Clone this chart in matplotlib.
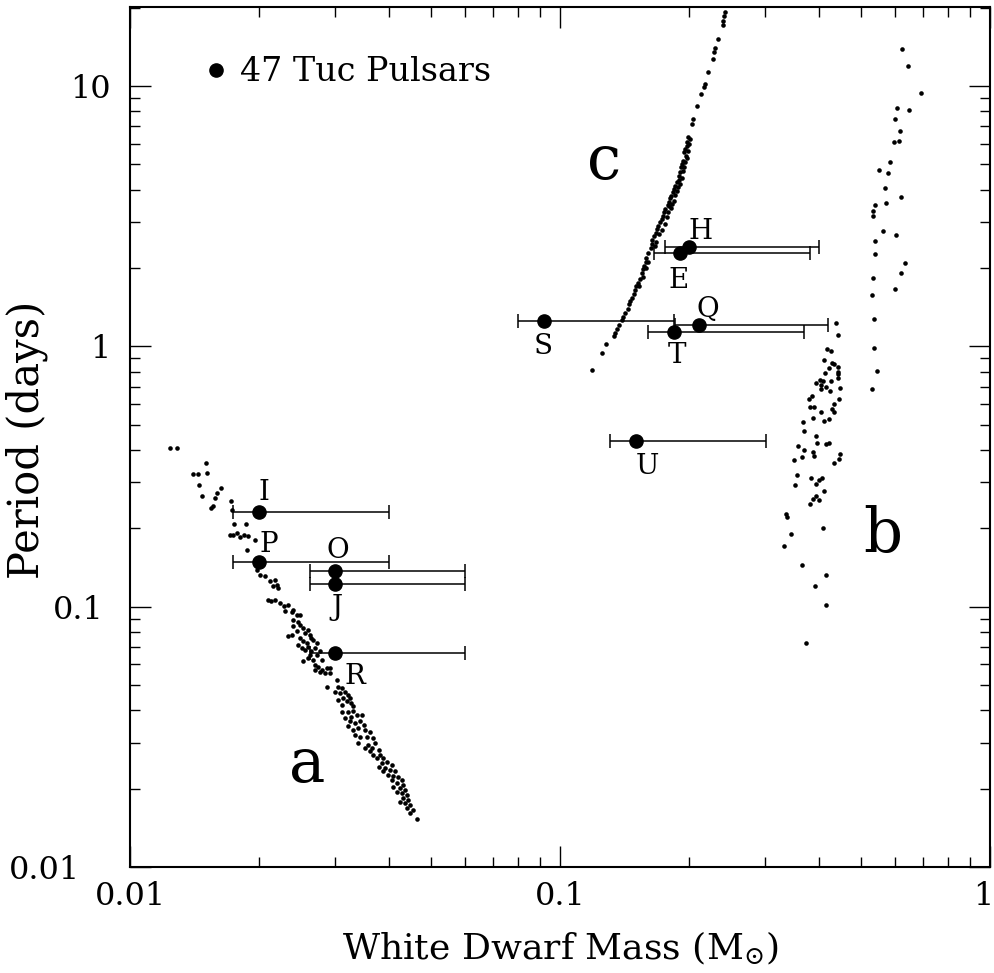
import numpy as np
import matplotlib
matplotlib.use("Agg")
import matplotlib.pyplot as plt
from matplotlib.lines import Line2D
from matplotlib.transforms import ScaledTranslation

plt.rcParams["font.family"] = ["DejaVu Serif"]
plt.rcParams["mathtext.fontset"] = "dejavuserif"

# 47 Tuc pulsars: mass (Msun), period (days), mass range of the error bar
psr_names = ["I", "P", "O", "J", "R", "S", "T", "Q", "E", "H", "U"]
psr_mass = [0.020, 0.020, 0.030, 0.030, 0.030, 0.092, 0.184, 0.210, 0.190, 0.200, 0.150]
psr_period = [0.232, 0.149, 0.137, 0.1225, 0.0665, 1.248, 1.132, 1.205, 2.28, 2.40, 0.431]
psr_mass_lo = [0.0174, 0.0174, 0.0262, 0.0262, 0.0262, 0.0798, 0.160, 0.185, 0.165, 0.175, 0.1307]
psr_mass_hi = [0.040, 0.040, 0.060, 0.060, 0.060, 0.184, 0.369, 0.420, 0.381, 0.400, 0.301]

# simulated binaries, group a  (log10 mass, log10 period)
a_logm = [-1.907, -1.890, -1.824, -1.853, -1.841, -1.822, -1.839, -1.833, -1.798, -1.788,
          -1.802, -1.806, -1.812, -1.766, -1.762, -1.758, -1.730, -1.767, -1.761, -1.752,
          -1.744, -1.736, -1.725, -1.709, -1.727, -1.704, -1.698, -1.686, -1.674, -1.663,
          -1.659, -1.668, -1.655, -1.678, -1.663, -1.671, -1.651, -1.643, -1.632, -1.640,
          -1.624, -1.612, -1.620, -1.605,
          -1.622, -1.609, -1.620, -1.605, -1.597, -1.585, -1.612, -1.593, -1.624, -1.632,
          -1.581, -1.578, -1.605, -1.574, -1.597, -1.589, -1.566, -1.609, -1.585, -1.570,
          -1.601, -1.593, -1.578, -1.558, -1.581, -1.566, -1.585, -1.574, -1.554, -1.597,
          -1.570, -1.562, -1.543, -1.554, -1.535, -1.546, -1.558, -1.535, -1.570, -1.519,
          -1.543, -1.516, -1.508, -1.523, -1.512, -1.500, -1.492, -1.504, -1.488, -1.516,
          -1.496, -1.485, -1.508, -1.481,
          -1.508, -1.492, -1.481, -1.473, -1.461, -1.500, -1.485, -1.488, -1.477, -1.465,
          -1.457, -1.492, -1.481, -1.469, -1.453, -1.442, -1.477, -1.465, -1.450, -1.434,
          -1.469, -1.446, -1.430, -1.453, -1.438, -1.422, -1.442, -1.434, -1.419, -1.411,
          -1.426, -1.403, -1.415, -1.391, -1.422, -1.407, -1.395, -1.384, -1.411, -1.399,
          -1.388, -1.376, -1.368, -1.391, -1.380, -1.364, -1.388, -1.372, -1.360, -1.380,
          -1.368, -1.357, -1.364, -1.353, -1.372, -1.360, -1.349, -1.357, -1.341, -1.349,
          -1.332]
a_logp = [-0.390, -0.390, -0.450, -0.492, -0.492, -0.486, -0.531, -0.576, -0.563, -0.546,
          -0.582, -0.612, -0.621, -0.595, -0.627, -0.681, -0.682, -0.723, -0.723, -0.717,
          -0.732, -0.723, -0.730, -0.742, -0.781, -0.858, -0.877, -0.883, -0.903, -0.896,
          -0.915, -0.922, -0.928, -0.973, -0.973, -0.980, -0.986, -0.999, -0.992, -1.018,
          -1.022, -1.031, -1.012, -1.031,
          -1.050, -1.057, -1.076, -1.069, -1.082, -1.089, -1.095, -1.101, -1.108, -1.114,
          -1.108, -1.121, -1.121, -1.127, -1.133, -1.140, -1.140, -1.146, -1.153, -1.159,
          -1.159, -1.165, -1.172, -1.172, -1.185, -1.185, -1.197, -1.204, -1.204, -1.210,
          -1.223, -1.230, -1.236, -1.242, -1.236, -1.255, -1.249, -1.255, -1.242, -1.281,
          -1.307, -1.307, -1.313, -1.326, -1.332, -1.326, -1.339, -1.351, -1.351, -1.358,
          -1.364, -1.371, -1.377, -1.383,
          -1.403, -1.406, -1.399, -1.415, -1.415, -1.428, -1.422, -1.441, -1.447, -1.441,
          -1.454, -1.460, -1.473, -1.467, -1.473, -1.480, -1.492, -1.499, -1.499, -1.505,
          -1.524, -1.531, -1.524, -1.544, -1.544, -1.550, -1.556, -1.569, -1.569, -1.582,
          -1.582, -1.595, -1.601, -1.608, -1.614, -1.620, -1.627, -1.633, -1.633, -1.646,
          -1.652, -1.655, -1.665, -1.665, -1.678, -1.685, -1.691, -1.697, -1.704, -1.710,
          -1.717, -1.723, -1.736, -1.742, -1.749, -1.755, -1.762, -1.774, -1.781, -1.793,
          -1.815]

# group b
b_logm = [-0.359, -0.353, -0.380, -0.370, -0.387, -0.368, -0.364, -0.374, -0.354, -0.353,
          -0.353, -0.353, -0.384, -0.405, -0.396, -0.388, -0.393, -0.394, -0.382, -0.370,
          -0.373, -0.350, -0.413, -0.422, -0.352, -0.362, -0.419, -0.409, -0.368, -0.364,
          -0.393, -0.412, -0.386, -0.375, -0.434, -0.432, -0.405, -0.403, -0.382, -0.374,
          -0.446, -0.433, -0.412, -0.409, -0.437, -0.457, -0.349, -0.351, -0.364, -0.450,
          -0.454, -0.416, -0.390, -0.398, -0.405, -0.386, -0.405, -0.411, -0.418, -0.397,
          -0.475, -0.472, -0.464, -0.389, -0.478, -0.438, -0.382, -0.407, -0.381, -0.428,
          -0.205, -0.191, -0.161, -0.216, -0.188, -0.220, -0.209, -0.223, -0.212, -0.233,
          -0.259, -0.238, -0.245, -0.206, -0.268, -0.242, -0.271, -0.271, -0.249, -0.219,
          -0.268, -0.268, -0.198, -0.206, -0.271, -0.220, -0.274, -0.270, -0.269, -0.264,
          -0.274]
b_logp = [0.091, 0.042, -0.012, -0.019, -0.053, -0.065, -0.069, -0.085, -0.078, -0.097,
          -0.108, -0.122, -0.101, -0.142, -0.130, -0.133, -0.150, -0.163, -0.155, -0.135,
          -0.171, -0.160, -0.189, -0.204, -0.204, -0.222, -0.233, -0.232, -0.242, -0.253,
          -0.253, -0.276, -0.287, -0.278, -0.291, -0.324, -0.345, -0.373, -0.377, -0.373,
          -0.383, -0.399, -0.405, -0.422, -0.424, -0.435, -0.412, -0.431, -0.450, -0.495,
          -0.533, -0.504, -0.504, -0.514, -0.527, -0.556, -0.573, -0.587, -0.605, -0.590,
          -0.644, -0.655, -0.719, -0.697, -0.768, -0.839, -0.877, -0.919, -0.995, -1.138,
          1.140, 1.076, 0.972, 0.914, 0.907, 0.873, 0.827, 0.786, 0.788, 0.709,
          0.678, 0.665, 0.608, 0.574, 0.543, 0.550, 0.520, 0.500, 0.443, 0.426,
          0.405, 0.353, 0.320, 0.283, 0.262, 0.222, 0.196, 0.104, -0.008, -0.096,
          -0.163]

# group c
c_logm = [-0.616, -0.619, -0.620, -0.622, -0.633, -0.639, -0.641, -0.645, -0.655, -0.663,
          -0.665, -0.673, -0.682, -0.690, -0.693, -0.702, -0.704, -0.705, -0.709, -0.712,
          -0.707, -0.713, -0.716, -0.719, -0.721, -0.724, -0.723, -0.729, -0.733, -0.735,
          -0.738, -0.742, -0.744, -0.747, -0.750, -0.746, -0.755, -0.758, -0.761, -0.764,
          -0.768, -0.771, -0.774, -0.777, -0.781, -0.785, -0.786, -0.789, -0.795, -0.799,
          -0.801, -0.805, -0.808, -0.810, -0.814, -0.818, -0.823, -0.826, -0.828, -0.833,
          -0.837, -0.839, -0.843, -0.849, -0.853, -0.857, -0.862, -0.867, -0.872, -0.874,
          -0.892, -0.903, -0.926,
          -0.697, -0.700, -0.703, -0.705, -0.709, -0.712, -0.715, -0.717, -0.722, -0.726,
          -0.729, -0.733, -0.736, -0.740, -0.743, -0.748, -0.752, -0.757, -0.764, -0.770,
          -0.776, -0.780, -0.795, -0.800, -0.808, -0.816]
c_logp = [1.283, 1.268, 1.251, 1.235, 1.181, 1.145, 1.132, 1.104, 1.053, 1.008,
          0.995, 0.969, 0.922, 0.873, 0.853, 0.803, 0.786, 0.771, 0.758, 0.745,
          0.732, 0.713, 0.700, 0.687, 0.668, 0.655, 0.640, 0.632, 0.617, 0.604,
          0.591, 0.578, 0.568, 0.555, 0.542, 0.537, 0.527, 0.514, 0.501, 0.488,
          0.478, 0.463, 0.450, 0.437, 0.422, 0.409, 0.392, 0.376, 0.360, 0.341,
          0.322, 0.309, 0.296, 0.281, 0.260, 0.245, 0.230, 0.217, 0.200, 0.187,
          0.174, 0.162, 0.142, 0.127, 0.114, 0.101, 0.081, 0.065, 0.053, 0.040,
          0.008, -0.024, -0.091,
          0.795, 0.778, 0.752, 0.724, 0.706, 0.690, 0.672, 0.648, 0.625, 0.610,
          0.596, 0.583, 0.560, 0.548, 0.530, 0.515, 0.495, 0.470, 0.445, 0.430,
          0.400, 0.385, 0.325, 0.300, 0.268, 0.233]

# group letters and where they sit (mass, period)
group_names = ["a", "b", "c"]
group_mass = [0.0258, 0.564, 0.1265]
group_period = [0.0247, 0.189, 5.1]

# axis tick labels
x_ticks = [0.01, 0.1, 1]
x_ticklabels = ["0.01", "0.1", "1"]
y_ticks = [0.01, 0.1, 1, 10]
y_ticklabels = ["0.01", "0.1", "1", "10"]

# label offsets (points) of the pulsar names
label_offsets = {"I": (3, 14), "P": (6.5, 12), "O": (2, 14.5), "J": (1, -17),
                 "R": (14.5, -17), "S": (-1, -18), "T": (2, -17), "Q": (6.5, 11.5),
                 "E": (-1, -19.5), "H": (8, 11.5), "U": (8.5, -18)}

fig = plt.figure(figsize=(9.94, 9.73), dpi=100)
ax = fig.add_axes([0.1308, 0.1089, 0.8652, 0.8839])

dot_kw = dict(ls="none", marker="o", ms=3.3, color="black", mew=0)
for lm, lp in [(a_logm, a_logp), (b_logm, b_logp), (c_logm, c_logp)]:
    ax.plot(10 ** np.array(lm), 10 ** np.array(lp), **dot_kw)

m = np.array(psr_mass)
xerr = [m - np.array(psr_mass_lo), np.array(psr_mass_hi) - m]
ax.errorbar(m, psr_period, xerr=xerr, fmt="none", ecolor="black",
            elinewidth=1.1, capsize=5, capthick=1.1)
ax.plot(m, psr_period, "o", color="black", ms=9.5, ls="none")

for name, mm, pp in zip(psr_names, psr_mass, psr_period):
    ax.annotate(name, (mm, pp), xytext=label_offsets[name], textcoords="offset points",
                ha="center", va="center", fontsize=20)

for name, mm, pp in zip(group_names, group_mass, group_period):
    ax.text(mm, pp, name, ha="center", va="center", fontsize=44)

handle = Line2D([], [], ls="none", marker="o", color="black", ms=9.5)
ax.legend([handle], ["47 Tuc Pulsars"], loc="center left", bbox_to_anchor=(0.0895, 0.924),
          frameon=False, fontsize=24, handlelength=0.55, handletextpad=0.45,
          borderpad=0, borderaxespad=0)

ax.set_xscale("log")
ax.set_yscale("log")
ax.set_xlim(0.01, 1)
ax.set_ylim(0.01, 20.1)
ax.set_xticks(x_ticks)
ax.set_xticklabels(x_ticklabels)
ax.set_yticks(y_ticks)
ax.set_yticklabels(y_ticklabels)
ax.tick_params(which="both", direction="in", top=True, right=True, width=1)
ax.tick_params(which="major", length=15, labelsize=23)
ax.tick_params(which="minor", length=7.5)
ax.tick_params(axis="x", which="major", pad=10)
ax.tick_params(axis="y", which="major", pad=14)
for s in ax.spines.values():
    s.set_linewidth(1.5)

# nudge a few tick labels the way the original places them
x_shift = [0, 0, -5]
y_shift = [-22, -5, 0, 0]
for lab, dx in zip(ax.get_xticklabels(), x_shift):
    lab.set_transform(lab.get_transform() + ScaledTranslation(dx / 72, 0, fig.dpi_scale_trans))
for lab, dx in zip(ax.get_yticklabels(), y_shift):
    lab.set_transform(lab.get_transform() + ScaledTranslation(dx / 72, 0, fig.dpi_scale_trans))

ax.set_xlabel(r"White Dwarf Mass (M$_{\odot}$)", fontsize=26)
ax.set_ylabel("Period (days)", fontsize=30)
ax.xaxis.set_label_coords(0.5, -0.073)
ax.yaxis.set_label_coords(-0.095, 0.497)

fig.savefig("out.png", dpi=100)
